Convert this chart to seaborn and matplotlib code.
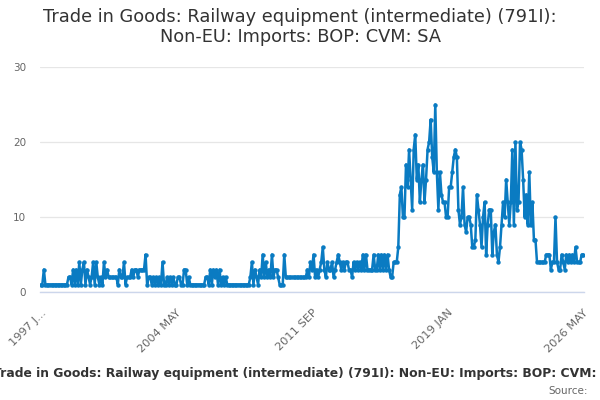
import numpy as np
import pandas as pd
import matplotlib
matplotlib.use("Agg")
import matplotlib.pyplot as plt
import seaborn as sns

# monthly values, 1997 JAN .. 2026 MAY
vals_1997_2002 = [1, 1, 3, 1, 1, 1, 1, 1, 1, 1, 1, 1, 1, 1, 1, 1, 1, 1,
                  2, 2, 1, 3, 1, 3, 1, 4, 1, 3, 4, 1, 3, 2, 1, 2, 4, 1, 4, 2, 1, 2, 1, 4,
                  2, 3, 2, 2, 2, 2, 2, 2, 1, 3, 2, 2, 4, 1, 2, 2, 2, 3, 2, 3]
vals_2002_2008 = [3, 2, 3, 3, 3, 3,
                  5, 1, 2, 2, 1, 2, 1, 2, 1, 2, 1, 4,
                  1, 1, 2, 1, 2, 1, 2, 1, 1, 2, 2, 1, 1,
                  3, 3, 1, 2, 1, 1, 1, 1, 1, 1, 1, 1, 1, 1, 2, 2, 1,
                  3, 1, 3, 2, 3, 1, 3, 1, 2, 1,
                  2,
                  1, 1, 1, 1, 1, 1, 1, 1, 1, 1, 1, 1, 1, 1, 1]
vals_2008_2012 = [2, 4, 1, 3, 2, 1, 3, 2, 5, 2, 4, 2, 3, 2, 5, 2, 3, 3, 2, 1, 1, 1, 5, 2,
                  2, 2, 2, 2, 2, 2, 2, 2, 2, 2, 2, 2, 2,
                  3, 2, 4, 3, 5, 2, 3, 2, 3, 4, 6]
vals_2012_2016 = [3, 2, 4, 3, 3, 4, 2, 3, 4, 5,
                  4, 3, 4, 3, 4, 4, 3, 3, 2, 4,
                  3, 4, 3, 4, 3, 5, 3, 5, 3, 3,
                  3, 3, 5, 3, 3, 5, 3, 5, 3, 5,
                  3, 5, 3, 2, 2, 4, 4, 4]
vals_2016_2020 = [6, 13, 14, 10, 10, 17, 14, 19, 15, 11, 19, 21, 15, 17, 12, 15, 17, 12,
                  15, 19, 20, 23, 18, 16, 25, 16, 11, 16, 13, 12, 12, 10, 10, 14, 14, 16,
                  18, 19, 18, 11, 9, 10, 14, 9, 8, 10, 10, 9, 6, 6, 7, 13, 11]
vals_2020_2026 = [9, 6, 10, 12, 5, 9, 11, 11, 5, 8, 9, 5, 4, 6, 9, 12, 10, 15, 12, 9,
                  12, 19, 9, 20, 11, 12, 20, 19, 15, 10, 13, 9, 16, 9, 12, 7, 7,
                  4, 4, 4, 4, 4, 4, 5, 5, 5, 3, 4, 4, 10, 4, 3, 3, 5, 4, 3, 5, 4, 5, 4,
                  5, 4, 6, 4, 4, 4, 5, 5]

values = (vals_1997_2002 + vals_2002_2008 + vals_2008_2012 +
          vals_2012_2016 + vals_2016_2020 + vals_2020_2026)
months = pd.date_range("1997-01-01", periods=len(values), freq="MS")

tick_labels = ["1997 J...", "2004 MAY", "2011 SEP", "2019 JAN", "2026 MAY"]
y_ticks = [0, 10, 20, 30]

title = "Trade in Goods: Railway equipment (intermediate) (791I):\nNon-EU: Imports: BOP: CVM: SA"
caption = "Trade in Goods: Railway equipment (intermediate) (791I): Non-EU: Imports: BOP: CVM: SA"

df = pd.DataFrame({"idx": np.arange(len(values)), "month": months, "value": values})

sns.set_style("white")
plt.rcParams["font.family"] = ["DejaVu Sans"]

fig = plt.figure(figsize=(6, 4), dpi=100)
ax = fig.add_axes([40 / 600, 1 - 292 / 400, 544 / 600, 225 / 400])

line_col = "#0a7bc2"
sns.lineplot(data=df, x="idx", y="value", ax=ax, color=line_col, linewidth=1.8,
             marker="o", markersize=3.2, markeredgewidth=0, markerfacecolor=line_col)

n = len(values)
major = np.linspace(0, n - 1, len(tick_labels))
ax.set_xticks(major)
ax.set_xticklabels(tick_labels, rotation=45, ha="right", rotation_mode="anchor",
                   fontsize=8.2, color="#666666")
ax.set_xticks(np.arange(0, n, 22), minor=True)
ax.set_xlim(-0.5, n - 0.5)

ax.set_ylim(0, 30)
ax.set_yticks(y_ticks)
ax.set_yticklabels([str(t) for t in y_ticks], fontsize=7.5, color="#666666")
ax.grid(axis="y", color="#e6e6e6", linewidth=0.9)
ax.set_axisbelow(True)

for s in ["top", "right", "left"]:
    ax.spines[s].set_visible(False)
ax.spines["bottom"].set_color("#ccd6eb")
ax.spines["bottom"].set_linewidth(1.0)
ax.tick_params(axis="x", which="both", direction="out", length=7.2, width=1,
               color="#ccd6eb", pad=4)
ax.tick_params(axis="y", length=0, pad=10)
ax.set_xlabel("")
ax.set_ylabel("")

fig.text(0.5, 1 - 8 / 400, title, ha="center", va="top", fontsize=12.8,
         color="#333333", linespacing=1.15)
# caption is wider than the figure in the reference, so it's clipped at both edges
fig.text(0.511, 1 - 373 / 400, caption, ha="center", va="center", fontsize=8.9,
         fontweight="bold", color="#333333")
fig.text(588 / 600, 1 - 391 / 400, "Source:", ha="right", va="center", fontsize=7.5,
         color="#666666")

fig.savefig("out.png", dpi=100)
